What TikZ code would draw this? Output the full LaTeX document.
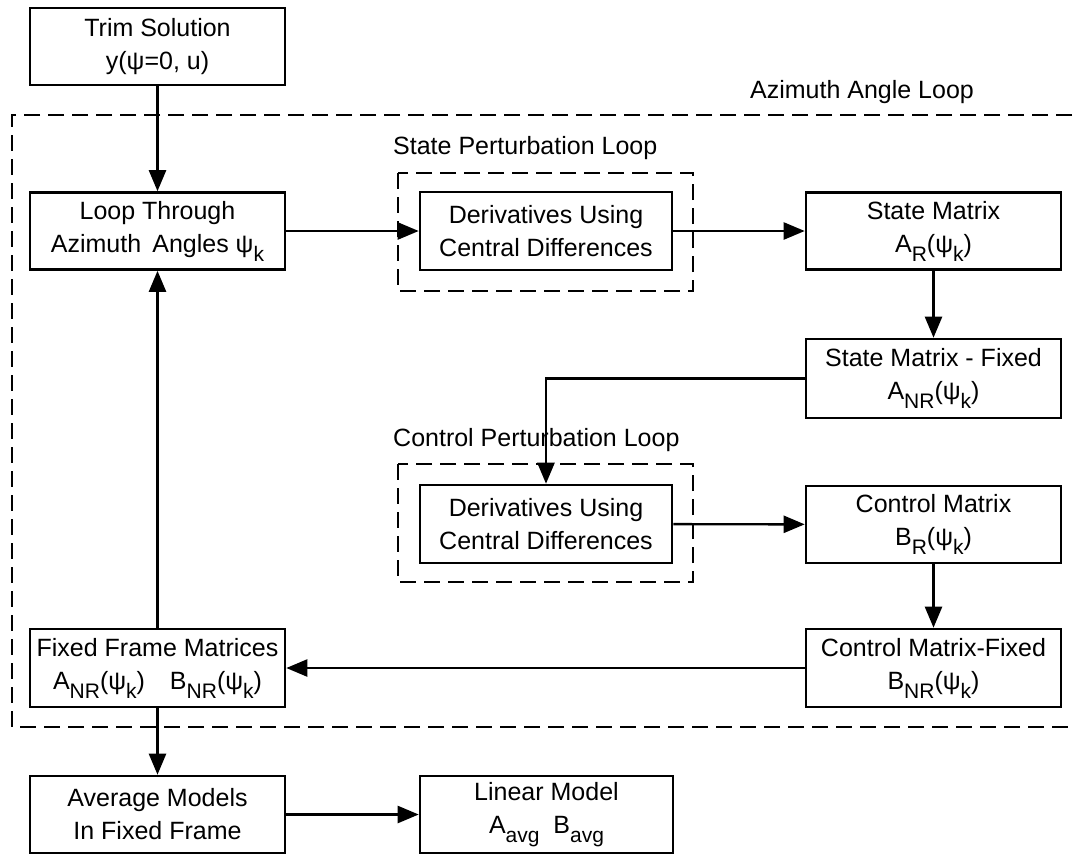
\documentclass[tikz,border=0pt]{standalone}
\usepackage{fontspec}
\setmainfont{Liberation Sans}
\usetikzlibrary{arrows.meta}
% lowered subscript in near-full size
\newcommand\lsub[1]{\raisebox{-9pt}{\fontsize{21}{21}\selectfont #1}}
\begin{document}
\begin{tikzpicture}[x=1pt,y=-1pt,
  font=\fontsize{25}{33}\selectfont,
  blk/.style={draw, line width=2.6pt, inner sep=0pt, align=center,
              minimum height=77pt, minimum width=255pt},
  conn/.style={line width=2.4pt, -{Triangle[length=21pt,width=17pt]}},
  loopline/.style={line width=2.6pt, dash pattern=on 16pt off 8pt},
  lbl/.style={inner sep=0pt}]
\useasboundingbox (0,0) rectangle (1075,855);

% loop frames
\draw[loopline] (1072,115) -- (12,115) -- (12,727) -- (1072,727);
\draw[loopline] (398,173) rectangle (693,291);
\draw[loopline] (398,464) rectangle (693,582);

% loop labels
\node[lbl] (azlbl) at (862,92) {Azimuth Angle Loop};
\node[lbl, anchor=west] (splbl) at (393,148) {State Perturbation Loop};
\node[lbl, anchor=west] (cplbl) at (393,440) {Control Perturbation Loop};

% blocks
\node[blk] (trim) at (157.5,46.5) {Trim Solution\\y(ψ=0, u)};
\node[blk] (loop) at (157.5,231) {Loop Through\\Azimuth\, Angles ψ\lsub{k}};
\node[blk, minimum width=252pt, minimum height=78pt] (d1) at (546,231) {Derivatives Using\\Central Differences};
\node[blk] (sm) at (933.5,231) {State Matrix\\A\lsub{R}(ψ\lsub{k})};
\node[blk, minimum height=79pt] (smf) at (933.5,378.5) {State Matrix - Fixed\\A\lsub{NR}(ψ\lsub{k})};
\node[blk, minimum width=252pt, minimum height=78pt] (d2) at (546,524) {Derivatives Using\\Central Differences};
\node[blk] (cm) at (933.5,524.5) {Control Matrix\\B\lsub{R}(ψ\lsub{k})};
\node[blk, minimum height=78pt] (cmf) at (933.5,668) {Control Matrix-Fixed\\B\lsub{NR}(ψ\lsub{k})};
\node[blk, minimum height=78pt] (ff) at (157.5,668) {Fixed Frame Matrices\\A\lsub{NR}(ψ\lsub{k})\quad B\lsub{NR}(ψ\lsub{k})};
\node[blk] (am) at (157.5,814.5) {Average Models\\In Fixed Frame};
\node[blk, minimum width=253pt] (lm) at (546.5,814.5) {Linear Model\\A\lsub{avg}\ \ B\lsub{avg}};

% connectors
\draw[conn] (trim) -- (loop);
\draw[conn] (loop) -- (d1);
\draw[conn] (d1) -- (sm);
\draw[conn] (sm) -- (smf);
\draw[conn] (smf.west) -| (d2.north);
\draw[conn] (d2) -- (cm);
\draw[conn] (cm) -- (cmf);
\draw[conn] (cmf) -- (ff);
\draw[conn] (ff) -- (loop);
\draw[conn] (ff) -- (am);
\draw[conn] (am) -- (lm);
\end{tikzpicture}
\end{document}
